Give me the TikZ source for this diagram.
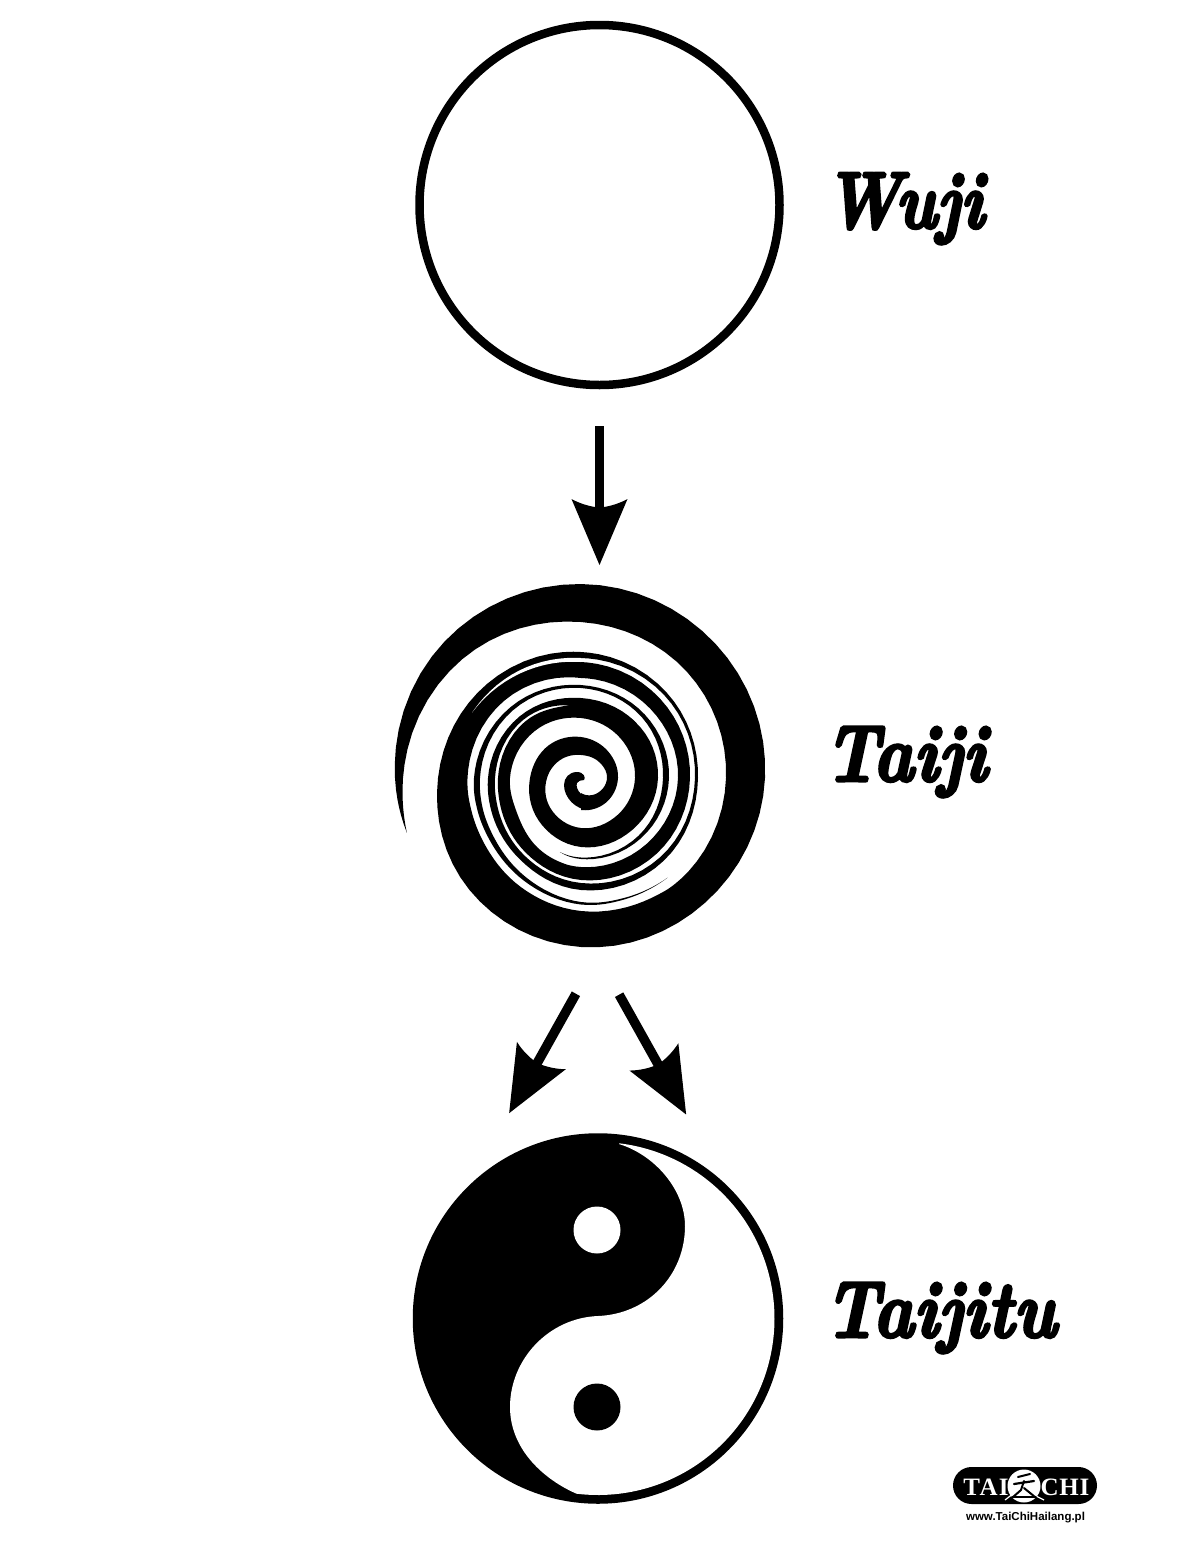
\documentclass[tikz,border=0pt]{standalone}
\usepackage{fontspec}
\usetikzlibrary{arrows.meta}
\newfontfamily\logoserif{Liberation Serif}
\newfontfamily\logosans{Liberation Sans}
\newcommand\heavy[1]{\special{pdf:code q 2 Tr 3.2 w 0 0 0 RG}#1\special{pdf:code Q}}
\pgfdeclarearrow{
  name=TaiHead,
  setup code={\pgfarrowssettipend{0pt}\pgfarrowssetlineend{-50pt}\pgfarrowssetbackend{-66pt}\pgfarrowssetvisualbackend{-57pt}},
  drawing code={
    \pgfpathmoveto{\pgfpoint{0pt}{0pt}}
    \pgfpathlineto{\pgfpoint{-66pt}{28pt}}
    \pgfpathcurveto{\pgfpoint{-61pt}{19pt}}{\pgfpoint{-58pt}{8pt}}{\pgfpoint{-57.5pt}{0pt}}
    \pgfpathcurveto{\pgfpoint{-58pt}{-8pt}}{\pgfpoint{-61pt}{-19pt}}{\pgfpoint{-66pt}{-28pt}}
    \pgfpathclose
    \pgfusepathqfill
  },
  defaults={}
}
\tikzset{
  ring/.style={circle,draw=black,line width=8.5pt,inner sep=0pt,outer sep=0pt},
  conn/.style={line width=9.5pt,black,-{TaiHead}},
  band/.style={fill=black},
  gap/.style={fill=white},
  labeltext/.style={anchor=base west,inner sep=0pt,font=\fontsize{80}{80}\selectfont\bfseries\itshape}
}
% Catmull-Rom interpolation of polar knots angle/radius
\newcount\crn
\newcommand\emitseg{%
  \foreach \tq in {0.125,0.25,0.375,0.5,0.625,0.75,0.875,1}{%
    \pgfmathsetmacro\aa{\Pa-\Pb}\pgfmathsetmacro\cc{\Pc-\Pb}\pgfmathsetmacro\dd{\Pd-\Pb}%
    \pgfmathsetmacro\pv{\Pb+0.5*((\cc-\aa)*\tq+(2*\aa+4*\cc-\dd)*\tq*\tq+(\dd-\aa-3*\cc)*\tq*\tq*\tq)}%
    \pgfmathsetmacro\aa{\Ra-\Rb}\pgfmathsetmacro\cc{\Rc-\Rb}\pgfmathsetmacro\dd{\Rd-\Rb}%
    \pgfmathsetmacro\rv{\Rb+0.5*((\cc-\aa)*\tq+(2*\aa+4*\cc-\dd)*\tq*\tq+(\dd-\aa-3*\cc)*\tq*\tq*\tq)}%
    \xdef\crpath{\crpath -- (\pv:\rv)}%
  }}
\newcommand\addcurve[1]{%
  \global\crn=0
  \foreach \pn/\rn in {#1}{%
    \ifnum\crn=0
      \ifx\crpath\empty\xdef\crpath{(\pn:\rn)}\else\xdef\crpath{\crpath -- (\pn:\rn)}\fi
      \xdef\Pa{\pn}\xdef\Ra{\rn}\xdef\Pb{\pn}\xdef\Rb{\rn}\xdef\Pc{\pn}\xdef\Rc{\rn}%
    \else
      \xdef\Pd{\pn}\xdef\Rd{\rn}%
      \ifnum\crn>1 \emitseg \xdef\Pa{\Pb}\xdef\Ra{\Rb}\fi
      \xdef\Pb{\Pc}\xdef\Rb{\Rc}\xdef\Pc{\Pd}\xdef\Rc{\Rd}%
    \fi
    \global\advance\crn by 1
  }%
  \xdef\Pd{\Pc}\xdef\Rd{\Rc}\emitseg
}
\newcommand\bandshape[3]{%
  \gdef\crpath{}\addcurve{#2}\addcurve{#3}%
  \edef\crcmd{\noexpand\fill[#1] \crpath -- cycle;}\crcmd
}
\begin{document}
\begin{tikzpicture}[x=1pt,y=-1pt]
\useasboundingbox (0,0) rectangle (1200,1543);
\fill[white] (0,0) rectangle (1200,1543);

% Wuji
\node[ring,minimum size=360pt] (wuji) at (599.5,205) {};
\node[labeltext] (lwuji) at (824,228) {\scalebox{.83}[1]{\heavy{Wuji}}};

% Taiji spiral
\node[circle,inner sep=0pt,outer sep=0pt,minimum size=366pt] (taiji) at (580,765) {};
\begin{scope}[shift={(581,778)}]
 % main band
 \bandshape{band}{162.5/182.5,180/186,225/193,270/194,315/190,360/184,405/176,450/169,495/158,540/143,585/133,630/126}
  {630/100,585/109,540/113.5,522/114.5,503/117.5,479/124.5,450/133,420/139,405/142,360/145,315/150,270/156,225/168,180/178,162.5/182.5}
 % first white sliver
 \bandshape{gap}{571/127,600/124,630/120,645/119}{645/115,630/116,600/121,571/127}
 % outer split of the band, merging again at the top
 \bandshape{band}{630/126,675/121,720/117,765/117,810/112,846/102,877/96,900/93,945/87,990/80,1035/78}
  {1035/70,990/70,976/75,945/82,900/86,877/89,846/96,810/105,765/112,720/114,675/117.5,630/120}
 % thin track, from the lower right tip round to the inner tip
 \bandshape{band}{769/132,790/129,810/126.5,839/117.5,863/111,882/108.5,900/107,945/100,990/93,1035/90,1080/88,1125/85,1170/81,1186/77}
  {1186/77,1170/79.5,1125/81.5,1080/82,1035/86,990/90,945/96,900/101,882/103,863/106,839/113.5,810/124,790/127.5,769/132}
 % inner band towards the hook
 \bandshape{band}{630/116,675/112,720/109,765/107,810/102,846/93,877/86,900/83,945/79.5,976/74,1000/75,1035/78,1080/77,1125/73,1170/69,1215/60,1260/51,1305/46,1350/41,1395/38,1440/37,1485/35,1530/32}
  {1530/15,1485/22,1440/26,1395/24,1350/23,1305/27,1260/34,1215/43,1170/50,1125/52,1080/54,1035/56,990/60,945/66,900/71,871/73,842/82,824/86.6,810/89,765/93,720/97,675/98,630/100}
\end{scope}
% hook at the centre of the spiral
\fill[black] (581,794) .. controls (577,790) and (576,786) .. (577,783)
  .. controls (578,781) and (581,780) .. (584,780)
  .. controls (586,778) and (584,772) .. (577,772)
  .. controls (569,772) and (564,778) .. (564,785)
  .. controls (564,797) and (575,810) .. (590,810) -- cycle;
\node[labeltext] (ltaiji) at (824,781) {\scalebox{.86}[1]{\heavy{Taiji}}};

% Taijitu
\node[ring,fill=black,minimum size=362pt] (taijitu) at (598,1318.5) {};
\fill[white] plot[domain=-83:97,samples=120] ({598+176.5*cos(\x)},{1318.5+176.5*sin(\x)})
  .. controls (545,1480) and (510,1450) .. (510,1407)
  .. controls (510,1360) and (548,1318) .. (598,1316)
  .. controls (648,1314) and (685,1275) .. (685,1226)
  .. controls (685,1190) and (655,1155) .. (619,1144) -- cycle;
\fill[white] (597,1230) circle[radius=23.5];
\fill[black] (597,1407) circle[radius=23.5];
\node[labeltext] (ltaijitu) at (824,1337) {\scalebox{.86}[1]{\heavy{Taijitu}}};

% Connectors
\draw[conn,shorten <=41pt,shorten >=17pt] (wuji.south) -- (wuji.south |- taiji.north);
\draw[conn,shorten <=54pt,shorten >=102pt] (taiji.-83) -- (taijitu.140);
\draw[conn,shorten <=54pt,shorten >=95pt] (taiji.-86) -- (taijitu.42);

% Logo
\fill[black,rounded corners=18.5pt] (953,1467) rectangle (1097,1504);
\node[inner sep=0pt,text=white,font=\logoserif\bfseries\fontsize{25}{25}\selectfont\addfontfeature{LetterSpace=5}] (ltai) at (986,1487) {TAI};
\node[inner sep=0pt,text=white,font=\logoserif\bfseries\fontsize{25}{25}\selectfont\addfontfeature{LetterSpace=3}] (lchi) at (1065,1487) {CHI};
\fill[white] (1024,1486) circle[radius=16.5];
\draw[white,line width=1.2pt] (1005,1500) -- (1014,1493);
\draw[white,line width=1.2pt] (1034,1495) -- (1044,1500);
\begin{scope}[line cap=round]
 \draw[black,line width=2pt] (1018,1477) -- (1030,1474);
 \draw[black,line width=2.2pt] (1014,1484) -- (1034,1481);
 \draw[black,line width=2pt] (1024,1481) -- (1021,1490) -- (1013,1497);
 \draw[black,line width=2pt] (1024,1488) -- (1035,1497);
 \draw[black,line width=1.6pt] (1012,1497) -- (1036,1497);
\end{scope}
\node[inner sep=0pt,font=\logosans\bfseries\fontsize{11.5}{12}\selectfont] (lurl) at (1025.5,1518) {www.TaiChiHailang.pl};
\end{tikzpicture}
\end{document}
